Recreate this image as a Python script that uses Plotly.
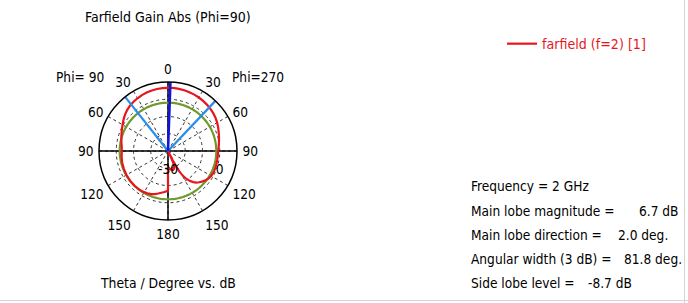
import plotly.graph_objects as go
import numpy as np

# ---------------- data ----------------
# Theta (deg, clockwise from top) and gain (dB) of the farfield cut
theta_right = [0, 2, 6, 10, 15, 20, 25, 30, 35, 40, 45, 50, 55, 60, 65, 70, 75, 80, 85,
               90, 95, 100, 105, 110, 115, 120, 124, 128, 132, 135, 138, 141, 144, 147,
               149, 151, 152, 153, 153.5, 154.5, 156, 158, 161, 165, 170, 175, 180]
gain_right = [6.65, 6.7, 6.68, 6.6, 6.45, 6.3, 6.05, 5.8, 5.45, 5.1, 4.7, 4.2, 3.6, 2.9,
              2.1, 1.3, 0.6, 0.0, -0.5, -0.9, -1.0, -1.0, -0.95, -0.85, -0.8, -1.1, -1.6,
              -2.4, -3.5, -4.4, -5.4, -6.8, -8.6, -11.0, -13.2, -16.5, -19.5, -24.0,
              -30.0, -26.0, -22.5, -20.5, -19.2, -18.6, -19.0, -19.8, -20.5]
theta_left = [180, 182, 185, 189, 193, 197, 201, 206, 211, 217, 224, 232, 240, 248, 256,
              263, 270, 275, 280, 285, 290, 295, 300, 305, 310, 315, 320, 325, 330, 335,
              340, 345, 350, 355, 360]
gain_left = [-7.2, -6.7, -6.1, -5.5, -4.7, -3.9, -3.2, -2.7, -2.35, -2.1, -2.0, -2.05,
             -2.2, -2.4, -2.6, -2.9, -3.2, -3.1, -2.6, -2.0, -1.3, -0.5, 0.4, 1.5, 2.6,
             3.5, 4.3, 4.85, 5.3, 5.75, 6.1, 6.35, 6.5, 6.6, 6.65]

main_lobe_dir = 2.0          # deg
main_lobe_mag = 6.7          # dB
side_lobe_level = -8.7       # dB (relative)
beam_edges = [-38.4, 43.4]   # 3 dB beam-edge directions, deg
r_range = [-30, 10]
angle_ticks = [0, 30, 60, 90, 120, 150, 180, 210, 240, 270, 300, 330]
angle_labels = ["0", "30", "60", "90", "120", "150", "180", "150", "120", "90", "60", "30"]
radial_ticks = [-30, -20, -10, 0]
radial_labels = ["-30", "", "", "0"]

info_lines = ["Frequency = 2 GHz", "Main lobe magnitude =", "Main lobe direction =",
              "Angular width (3 dB) =", "Side lobe level ="]
info_values = ["", "6.7 dB", "2.0 deg.", "81.8 deg.", "-8.7 dB"]

# ---------------- layout helpers ----------------
W, H = 688, 303
FONT = "DejaVu Sans Condensed, Liberation Sans, sans-serif"
FS = 13.6


def px(x):
    return x / W


def py(y):
    return 1 - y / H


cx, cy, D = 168, 151, 69   # centre and radius of the polar area (pixels)

fig = go.Figure()

# solid axes lines through the centre
for ang in [0, 90, 180, 270]:
    fig.add_trace(go.Scatterpolar(r=r_range, theta=[ang, ang], mode="lines",
                                  line=dict(color="black", width=1.5),
                                  showlegend=False, hoverinfo="skip"))

# side lobe level circle (green)
sll_abs = main_lobe_mag + side_lobe_level
circ_theta = np.arange(0, 361, 2)
fig.add_trace(go.Scatterpolar(r=[sll_abs] * len(circ_theta), theta=circ_theta,
                              mode="lines", line=dict(color="#6f9a2c", width=2.2),
                              showlegend=False, hoverinfo="skip"))

# farfield curve
fig.add_trace(go.Scatterpolar(r=gain_right + gain_left, theta=theta_right + theta_left,
                              mode="lines", name="farfield (f=2) [1]",
                              line=dict(color="#e8161c", width=2.2)))

# 3 dB beam edge lines
for ang in beam_edges:
    fig.add_trace(go.Scatterpolar(r=r_range, theta=[ang, ang], mode="lines",
                                  line=dict(color="#2a8ee8", width=2.2),
                                  showlegend=False, hoverinfo="skip"))

# main lobe direction
fig.add_trace(go.Scatterpolar(r=r_range, theta=[main_lobe_dir, main_lobe_dir], mode="lines",
                              line=dict(color="#1414d8", width=2.6),
                              showlegend=False, hoverinfo="skip"))

fig.update_layout(
    width=W, height=H,
    margin=dict(l=0, r=0, t=0, b=0),
    paper_bgcolor="white",
    font=dict(family=FONT, size=FS, color="black"),
    polar=dict(
        domain=dict(x=[px(cx - D), px(cx + D)], y=[py(cy + D), py(cy - D)]),
        bgcolor="white",
        radialaxis=dict(range=r_range, tickvals=radial_ticks, ticktext=radial_labels,
                        showline=False, showgrid=True, gridcolor="#333333",
                        griddash="dot", gridwidth=1, angle=0, side="clockwise",
                        tickangle=0, ticks="outside", ticklen=6,
                        tickcolor="rgba(0,0,0,0)",
                        tickfont=dict(family=FONT, size=FS, color="black")),
        angularaxis=dict(rotation=90, direction="clockwise", tickvals=angle_ticks,
                         ticktext=angle_labels, showline=True, linecolor="black",
                         linewidth=1.5, showgrid=True, gridcolor="#333333",
                         griddash="dot", gridwidth=1, ticks="outside", ticklen=2,
                         tickcolor="rgba(0,0,0,0)",
                         tickfont=dict(family=FONT, size=FS, color="black")),
    ),
    showlegend=True,
    legend=dict(x=px(502), y=py(44), xanchor="left", yanchor="middle",
                bgcolor="rgba(0,0,0,0)", font=dict(family=FONT, size=14.1, color="#e8161c")),
)

ann = []
ann.append(dict(x=px(168), y=py(17), text="Farfield Gain Abs (Phi=90)", size=14))
ann.append(dict(x=px(80), y=py(77), text="Phi= 90", size=FS))
ann.append(dict(x=px(258), y=py(77), text="Phi=270", size=FS))
ann.append(dict(x=px(168), y=py(283), text="Theta / Degree vs. dB", size=13.8))
for a in ann:
    s = a.pop("size")
    a.update(xref="paper", yref="paper", showarrow=False, xanchor="center",
             yanchor="middle", font=dict(family=FONT, size=s, color="black"))

line_y = [186, 210.5, 234.5, 258.5, 282.5]
value_x = [0, 636.5, 616, 621.5, 585.5]
for i, (t, v) in enumerate(zip(info_lines, info_values)):
    ann.append(dict(x=px(469), y=py(line_y[i]), text=t, xref="paper", yref="paper",
                    showarrow=False, xanchor="left", yanchor="middle",
                    font=dict(family=FONT, size=FS, color="black")))
    if v:
        ann.append(dict(x=px(value_x[i]), y=py(line_y[i]), text=v, xref="paper",
                        yref="paper", showarrow=False, xanchor="left", yanchor="middle",
                        font=dict(family=FONT, size=FS, color="black")))
fig.update_layout(annotations=ann)

fig.update_layout(shapes=[
    dict(type="line", xref="paper", yref="paper", x0=px(684.5), x1=px(684.5), y0=0, y1=1,
         line=dict(color="#d4d4d4", width=1)),
    dict(type="line", xref="paper", yref="paper", x0=0, x1=1, y0=py(300.5), y1=py(300.5),
         line=dict(color="#d4d4d4", width=1)),
])

fig.write_html("out.html")
